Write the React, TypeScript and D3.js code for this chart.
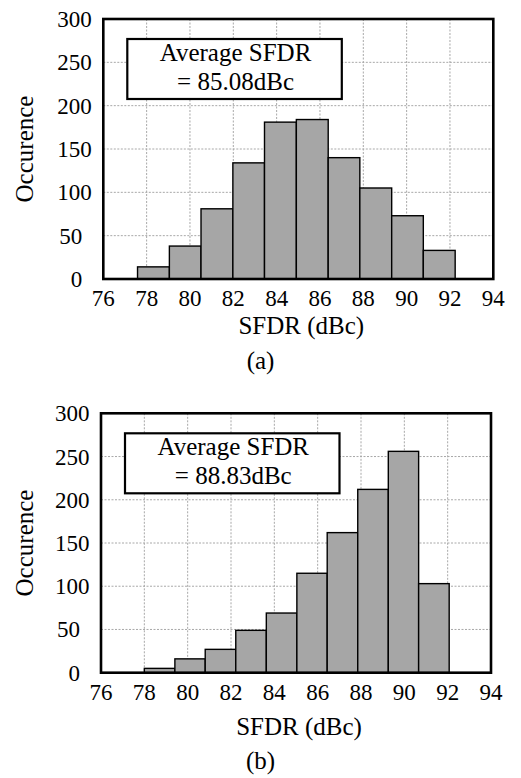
import React from "react";
import * as d3 from "d3";

const xTicks = [76, 78, 80, 82, 84, 86, 88, 90, 92, 94];
const yTicks = [0, 50, 100, 150, 200, 250, 300];

const edgesA = [77.58, 79.05, 80.51, 81.98, 83.44, 84.91, 86.38, 87.84, 89.31, 90.77, 92.24];
const countsA = [14, 38, 81, 134, 181, 184, 140, 105, 73, 33];
const edgesB = [78.0, 79.41, 80.81, 82.22, 83.63, 85.04, 86.44, 87.85, 89.26, 90.66, 92.07];
const countsB = [5, 16, 27, 49, 69, 115, 162, 212, 256, 103];

const avgTextA = "= 85.08dBc";
const avgTextB = "= 88.83dBc";
const boxTitle = "Average SFDR";
const xTitle = "SFDR (dBc)";
const yTitle = "Occurence";

const FONT = "Liberation Serif, Times New Roman, serif";

type PanelProps = {
  edges: number[];
  counts: number[];
  avgText: string;
  caption: string;
  left: number;
  top: number;
  height: number;
  xTitleY: number;
  captionY: number;
};

function Panel({ edges, counts, avgText, caption, left, top, height, xTitleY, captionY }: PanelProps) {
  const width = 390;
  const x = d3.scaleLinear().domain([76, 94]).range([left, left + width]);
  const y = d3.scaleLinear().domain([0, 300]).range([top + height, top]);
  const bins = counts.map((c, i) => ({ x0: edges[i], x1: edges[i + 1], c }));
  const boxX = left + 24;
  const boxW = 214.5;
  const boxY = top + 20;
  const boxH = 60;
  const txt = { fontFamily: FONT };
  return (
    <g style={txt} fill="#000">
      {xTicks.slice(1, -1).map((t) => (
        <line key={"gx" + t} x1={x(t)} x2={x(t)} y1={top} y2={top + height}
          stroke="#a8a8a8" strokeWidth={1} strokeDasharray="2,1.5" />
      ))}
      {yTicks.slice(1, -1).map((t) => (
        <line key={"gy" + t} x1={left} x2={left + width} y1={y(t)} y2={y(t)}
          stroke="#a8a8a8" strokeWidth={1} strokeDasharray="2,1.5" />
      ))}
      {bins.map((b, i) => (
        <rect key={"b" + i} x={x(b.x0)} y={y(b.c)} width={x(b.x1) - x(b.x0)} height={y(0) - y(b.c)}
          fill="#a6a6a6" stroke="#000" strokeWidth={1.4} />
      ))}
      <rect x={left} y={top} width={width} height={height} fill="none" stroke="#000" strokeWidth={2.6} />
      <rect x={boxX} y={boxY} width={boxW} height={boxH} fill="#fff" stroke="#000" strokeWidth={2.2} />
      <text style={txt} x={boxX + boxW / 2 + 1} y={top + 42} textAnchor="middle" fontSize={25}>{boxTitle}</text>
      <text style={txt} x={boxX + boxW / 2 + 1} y={top + 71} textAnchor="middle" fontSize={25}>{avgText}</text>
      {yTicks.map((t) => (
        <text style={txt} key={"yt" + t} x={String(t).length < 3 ? left - 21 : left - 11.5} y={y(t) + 8}
          textAnchor="end" fontSize={23}>{t}</text>
      ))}
      {xTicks.map((t) => (
        <text style={txt} key={"xt" + t} x={x(t)} y={top + height + 27} textAnchor="middle" fontSize={23}>{t}</text>
      ))}
      <text style={txt} transform={`translate(33,${top + height / 2}) rotate(-90)`} textAnchor="middle" fontSize={25}>{yTitle}</text>
      <text style={txt} x={left + width / 2 + 3} y={xTitleY} textAnchor="middle" fontSize={25}>{xTitle}</text>
      <text style={txt} x={260.5} y={captionY} textAnchor="middle" fontSize={25}>{caption}</text>
    </g>
  );
}

export default function App() {
  return (
    <svg width={521} height={778} style={{ position: "absolute", left: 0, top: 0, background: "#fff" }}>
      <rect x={0} y={0} width={521} height={778} fill="#fff" />
      <Panel edges={edgesA} counts={countsA} avgText={avgTextA} caption="(a)"
        left={103.3} top={19} height={260} xTitleY={334} captionY={369} />
      <Panel edges={edgesB} counts={countsB} avgText={avgTextB} caption="(b)"
        left={101} top={413.3} height={259.4} xTitleY={735} captionY={769} />
    </svg>
  );
}
